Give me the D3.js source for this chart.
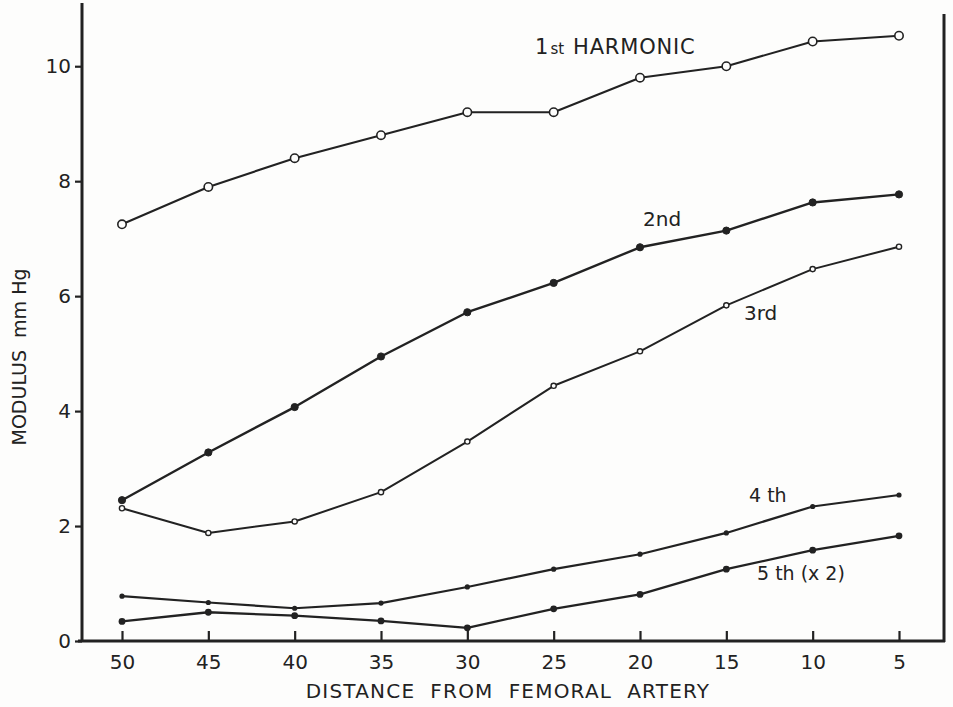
<!DOCTYPE html>
<html>
<head>
<meta charset="utf-8">
<script src="https://cdn.jsdelivr.net/npm/d3@7"></script>
<style>
  html, body { margin: 0; padding: 0; background: #fdfdfc; }
  svg { display: block; }
  text { font-family: "DejaVu Sans", "Noto Sans", sans-serif; fill: #222; }
</style>
</head>
<body>
<svg id="chart" width="953" height="707"></svg>
<script>
// ---- data ----
const distance = [50, 45, 40, 35, 30, 25, 20, 15, 10, 5];
const xTicks = [50, 45, 40, 35, 30, 25, 20, 15, 10, 5];
const yTicks = [0, 2, 4, 6, 8, 10];
const harmonic1 = [7.25, 7.9, 8.4, 8.8, 9.2, 9.2, 9.8, 10.0, 10.43, 10.53];
const harmonic2 = [2.45, 3.28, 4.07, 4.95, 5.72, 6.23, 6.85, 7.14, 7.63, 7.77];
const harmonic3 = [2.31, 1.88, 2.08, 2.59, 3.47, 4.44, 5.04, 5.84, 6.47, 6.86];
const harmonic4 = [0.78, 0.67, 0.57, 0.66, 0.94, 1.25, 1.51, 1.88, 2.34, 2.54];
const harmonic5x2 = [0.34, 0.50, 0.44, 0.35, 0.23, 0.56, 0.81, 1.25, 1.58, 1.83];
const seriesNames = ["1st HARMONIC", "2nd", "3rd", "4 th", "5 th (x 2)"];
const xTitle = "DISTANCE  FROM  FEMORAL  ARTERY";
const yTitle = "MODULUS  mm Hg";

// ---- drawing ----
const ink = "#222";
const svg = d3.select("#chart");
const x = d3.scaleLinear().domain([50, 5]).range([122, 899]);
const y = d3.scaleLinear().domain([0, 11.1]).range([641, 3]);

const axisX0 = 82, axisX1 = 944, axisY = 641;

// frame: left axis, bottom axis, right border
svg.append("line").attr("x1", axisX0).attr("x2", axisX0).attr("y1", 3).attr("y2", axisY + 1)
  .attr("stroke", ink).attr("stroke-width", 3);
svg.append("line").attr("x1", 78).attr("x2", axisX1 + 1).attr("y1", axisY).attr("y2", axisY)
  .attr("stroke", ink).attr("stroke-width", 3);
svg.append("line").attr("x1", axisX1).attr("x2", axisX1).attr("y1", 14).attr("y2", axisY + 1)
  .attr("stroke", ink).attr("stroke-width", 3);

// x axis ticks (inward) and labels
const xAxis = svg.append("g").attr("transform", `translate(0,${axisY})`)
  .call(d3.axisBottom(x).tickValues(xTicks).tickSizeInner(-10).tickSizeOuter(0).tickPadding(14).tickFormat(d3.format("d")));
xAxis.select(".domain").remove();
xAxis.selectAll(".tick line").attr("stroke", ink).attr("stroke-width", 2.2);
xAxis.selectAll(".tick text").attr("font-size", 20).attr("fill", ink).style("font-family", "DejaVu Sans, sans-serif");

// y axis ticks and labels
const yAxis = svg.append("g").attr("transform", `translate(${axisX0},0)`)
  .call(d3.axisLeft(y).tickValues(yTicks).tickSizeInner(7).tickSizeOuter(0).tickPadding(4).tickFormat(d3.format("d")));
yAxis.select(".domain").remove();
yAxis.selectAll(".tick line").attr("stroke", ink).attr("stroke-width", 2.2);
yAxis.selectAll(".tick text").attr("font-size", 20).attr("fill", ink).style("font-family", "DejaVu Sans, sans-serif");

// series
const series = [
  { vals: harmonic1, r: 4.2, fill: "#fdfdfc", sw: 1.6, lw: 2.1 },
  { vals: harmonic2, r: 3.6, fill: ink, sw: 1, lw: 2.4 },
  { vals: harmonic3, r: 2.6, fill: "#fdfdfc", sw: 1.4, lw: 2.0 },
  { vals: harmonic4, r: 2.6, fill: ink, sw: 0, lw: 2.2 },
  { vals: harmonic5x2, r: 3.4, fill: ink, sw: 0, lw: 2.3 }
];
const line = d3.line().x(d => x(d[0])).y(d => y(d[1]));

series.forEach(s => {
  const pts = distance.map((d, i) => [d, s.vals[i]]);
  svg.append("path").datum(pts).attr("d", line)
    .attr("fill", "none").attr("stroke", ink).attr("stroke-width", s.lw)
    .attr("stroke-linejoin", "round");
  svg.append("g").selectAll("circle").data(pts).join("circle")
    .attr("cx", d => x(d[0])).attr("cy", d => y(d[1])).attr("r", s.r)
    .attr("fill", s.fill).attr("stroke", ink).attr("stroke-width", s.sw);
});

// series labels
const lab = svg.append("g");
const t1 = lab.append("text").attr("x", 535).attr("y", 54).attr("font-size", 21);
t1.append("tspan").text("1");
t1.append("tspan").attr("font-size", 15).attr("dx", 2).text("st");
t1.append("tspan").attr("dx", 9).attr("letter-spacing", 0.8).text(seriesNames[0].replace("1st ", ""));
lab.append("text").attr("x", 643).attr("y", 226).attr("font-size", 20).text(seriesNames[1]);
lab.append("text").attr("x", 744).attr("y", 320).attr("font-size", 20).text(seriesNames[2]);
lab.append("text").attr("x", 749).attr("y", 502).attr("font-size", 19).text(seriesNames[3]);
lab.append("text").attr("x", 757).attr("y", 580).attr("font-size", 19).text(seriesNames[4]);

// axis titles
svg.append("text").attr("x", 508).attr("y", 698).attr("text-anchor", "middle")
  .attr("font-size", 20).attr("letter-spacing", 1.2).style("white-space", "pre").text(xTitle);
svg.append("text").attr("transform", "translate(26,357) rotate(-90)").attr("text-anchor", "middle")
  .attr("font-size", 19).attr("letter-spacing", 0).style("white-space", "pre").text(yTitle);
</script>
</body>
</html>
